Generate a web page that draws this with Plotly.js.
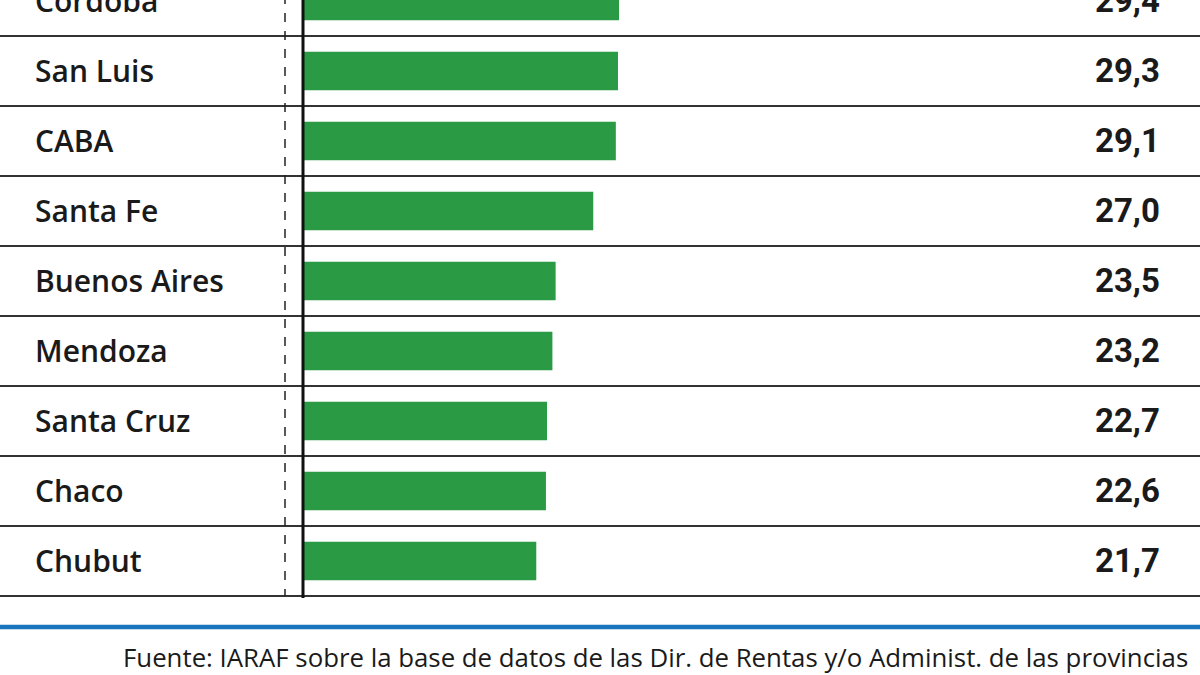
<!DOCTYPE html>
<html><head><meta charset="utf-8">
<script src="https://cdn.plot.ly/plotly-3.0.1.min.js"></script>
<style>html,body{margin:0;padding:0;background:#fff}#chart{width:1200px;height:675px}</style>
</head><body><div id="chart"></div>
<script>
const provincias = ["Córdoba","San Luis","CABA","Santa Fe","Buenos Aires","Mendoza","Santa Cruz","Chaco","Chubut"];
const valores = [29.4,29.3,29.1,27.0,23.5,23.2,22.7,22.6,21.7];
const fuente = "Fuente: IARAF sobre la base de datos de las Dir. de Rentas y/o Administ. de las provincias";

const fmt = v => v.toFixed(1).replace('.', ',');
const idx = provincias.map((_, i) => i);

const trace = {
  type: 'bar', orientation: 'h',
  x: valores, y: idx,
  marker: {color: '#2a9a45'},
  width: 0.55,
  hoverinfo: 'skip'
};

const annotations = [];
provincias.forEach((p, i) => {
  annotations.push({xref:'paper', yref:'y', x:33/1200, y:i, text:p, showarrow:false,
    xanchor:'left', yanchor:'middle', font:{family:'Open Sans', size:30, color:'#1a1a1a', weight:600}});
  annotations.push({xref:'paper', yref:'y', x:1162/1200, y:i, text:'<b>'+fmt(valores[i])+'</b>', showarrow:false,
    xanchor:'right', yanchor:'middle', font:{family:'Roboto', size:33, color:'#1a1a1a'}});
});
annotations.push({xref:'paper', yref:'paper', x:1190/1200, y:1-657/675, text:fuente, showarrow:false,
  xanchor:'right', yanchor:'middle', font:{family:'Open Sans', size:25.8, color:'#1a1a1a'}});

const shapes = [];
for (let i = 0; i < provincias.length; i++) {
  shapes.push({type:'line', xref:'paper', yref:'y', x0:0, x1:1, y0:i+0.5, y1:i+0.5,
    line:{color:'#333333', width:2}});
}
shapes.push({type:'line', xref:'paper', yref:'y', x0:285/1200, x1:285/1200, y0:-0.6, y1:provincias.length-0.5,
  line:{color:'#222', width:1.5, dash:'dash'}});
shapes.push({type:'line', xref:'x', yref:'y', x0:0, x1:0, y0:-0.6, y1:provincias.length-0.47,
  line:{color:'#111', width:3}});
shapes.push({type:'line', xref:'paper', yref:'paper', x0:0, x1:1, y0:1-627/675, y1:1-627/675,
  line:{color:'#1a75bc', width:4.5}});

const pxPerUnit = 10.75, zeroPx = 303, rowPx = 70, topOff = -0.014;
const layout = {
  width:1200, height:675,
  margin:{l:0,r:0,t:0,b:0},
  paper_bgcolor:'#fff', plot_bgcolor:'#fff',
  showlegend:false,
  xaxis:{range:[-zeroPx/pxPerUnit, (1200-zeroPx)/pxPerUnit], visible:false, fixedrange:true},
  yaxis:{range:[675/rowPx+topOff, topOff], visible:false, fixedrange:true},
  annotations, shapes
};
Plotly.newPlot('chart', [trace], layout, {staticPlot:true, displayModeBar:false});
</script></body></html>
